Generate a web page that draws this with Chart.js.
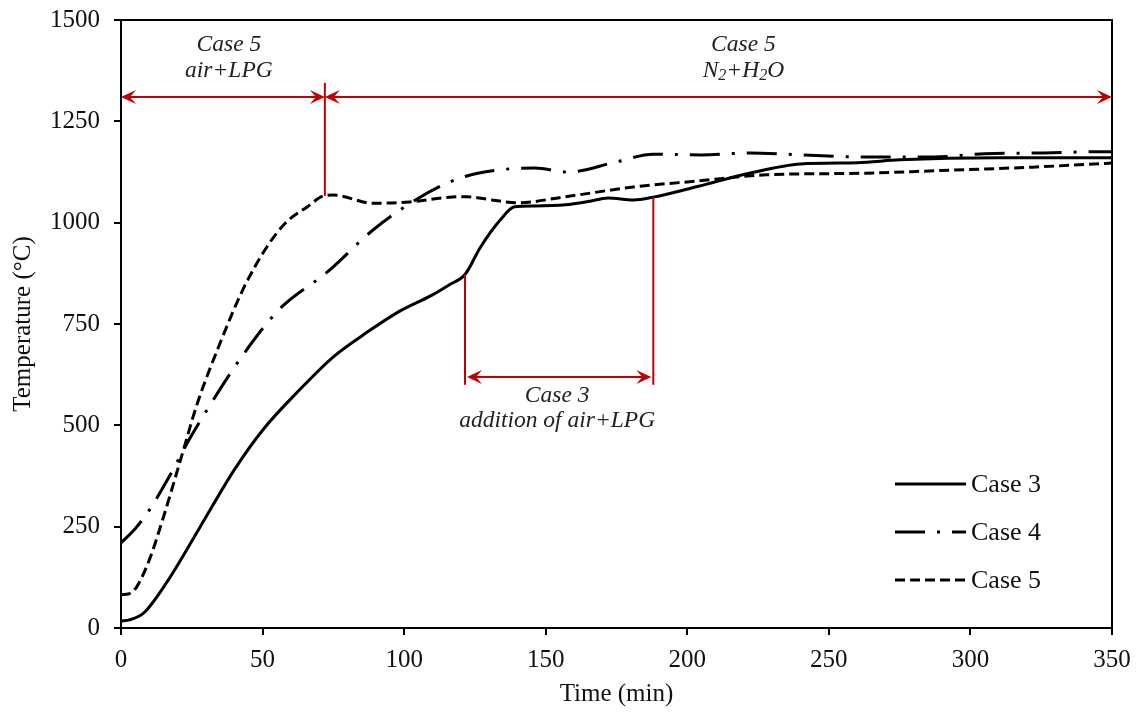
<!DOCTYPE html>
<html><head><meta charset="utf-8">
<script src="https://cdn.jsdelivr.net/npm/chart.js@4/dist/chart.umd.min.js"></script>
<style>html,body{margin:0;padding:0;background:#fff}#wrap{width:1136px;height:713px}</style>
</head><body><div id="wrap"><canvas id="c" width="1136" height="713"></canvas></div>
<script>
const xTicks = [0,50,100,150,200,250,300,350];
const yTicks = [0,250,500,750,1000,1250,1500];

const t3 = [0,3,8,16,28,40,50,63,75,87,98,110,116,121.5,127,134,139,146,157,165,172,181,188,204,222,240,260,275,310,350];
const T3 = [17,20,37,111,250,390,488,587,669,730,780,822,847,872,940,1007,1039,1041,1044,1052,1061,1056,1063,1090,1122,1145,1148,1155,1160,1160];

const t4 = [0,5,10,17,24,31,43,56,73,89,104,116,126,146,158,175,188,205,222,241,261,287,305,326,345,350];
const T4 = [210,245,291,373,464,545,673,787,879,982,1056,1100,1122,1135,1125,1150,1169,1167,1172,1167,1162,1162,1170,1172,1175,1175];

const t5 = [0,3,5.5,10,15,21,27,35,43,51.5,58.5,66,71.5,75,89,102,116,122,131,140,157,181,204,228,263,287,322,350];
const T5 = [82,85,101,168,274,414,555,703,834,940,1002,1040,1066,1068,1048,1051,1063,1064,1056,1049,1064,1088,1103,1118,1122,1128,1137,1147];

const seriesNames = ["Case 3","Case 4","Case 5"];

// annotation values (data units)
const phaseSplit = 72, phaseArrowY = 1310, phaseLineTop = 1345, phaseLineBottom = 1066;
const case3Start = 121.5, case3End = 188, case3ArrowY = 619, case3LineBottom = 600;
const case3StartTop = 872, case3EndTop = 1063;

const red = '#C00000';
const serif = '"Liberation Serif","Times New Roman",serif';

function pts(t, v){ return t.map((x,i)=>({x:x,y:v[i]})); }

const dashes = [[], [30,12,3,12], [10,5]];

const annotPlugin = {
  id:'annot',
  afterDatasetsDraw(chart){
    const ctx = chart.ctx, xs = chart.scales.x, ys = chart.scales.y, a = chart.chartArea;
    const X = v=>xs.getPixelForValue(v), Y = v=>ys.getPixelForValue(v);
    ctx.save();
    ctx.strokeStyle='#000'; ctx.lineWidth=2;
    ctx.beginPath(); ctx.moveTo(a.left,a.top); ctx.lineTo(a.right,a.top); ctx.lineTo(a.right,a.bottom); ctx.stroke();

    ctx.strokeStyle=red; ctx.fillStyle=red; ctx.lineWidth=2;
    function line(x1,y1,x2,y2){ctx.beginPath();ctx.moveTo(x1,y1);ctx.lineTo(x2,y2);ctx.stroke();}
    function head(x,y,dir){
      const L=15,W=7,I=9;
      ctx.beginPath(); ctx.moveTo(x,y); ctx.lineTo(x-dir*L,y-W); ctx.lineTo(x-dir*I,y); ctx.lineTo(x-dir*L,y+W); ctx.closePath(); ctx.fill();
    }
    function dbl(x1,x2,y){ line(x1+4,y,x2-4,y); head(x1,y,-1); head(x2,y,1); }
    const py = Y(phaseArrowY);
    line(X(phaseSplit),Y(phaseLineTop),X(phaseSplit),Y(phaseLineBottom));
    dbl(X(0),X(phaseSplit),py);
    dbl(X(phaseSplit),X(350),py);
    line(X(case3Start),Y(case3StartTop),X(case3Start),Y(case3LineBottom));
    line(X(case3End),Y(case3EndTop),X(case3End),Y(case3LineBottom));
    dbl(X(case3Start)+2,X(case3End)-2,Y(case3ArrowY));

    const F = 'italic 23.5px '+serif, FS = 'italic 16px '+serif;
    ctx.fillStyle='#222'; ctx.font=F; ctx.textAlign='center'; ctx.textBaseline='middle';
    const cx1 = X(phaseSplit/2)+6;
    ctx.fillText('Case 5',cx1,45); ctx.fillText('air+LPG',cx1,71);
    const cx2 = X((phaseSplit+350)/2)+25;
    ctx.fillText('Case 5',cx2,45);
    const parts=[['N',0],['2',1],['+H',0],['2',1],['O',0]];
    let w=0; parts.forEach(p=>{ctx.font=p[1]?FS:F; w+=ctx.measureText(p[0]).width;});
    let x=cx2-w/2; ctx.textAlign='left';
    parts.forEach(p=>{ctx.font=p[1]?FS:F; ctx.fillText(p[0],x,p[1]?76:71); x+=ctx.measureText(p[0]).width;});
    ctx.textAlign='center'; ctx.font=F;
    const cx3=(X(case3Start)+X(case3End))/2-2;
    ctx.fillText('Case 3',cx3,396); ctx.fillText('addition of air+LPG',cx3,421);

    const ly=[484,532,580];
    ctx.strokeStyle='#000'; ctx.lineWidth=3;
    ly.forEach((yy,i)=>{
      ctx.setLineDash(dashes[i]); ctx.beginPath(); ctx.moveTo(895,yy); ctx.lineTo(966,yy); ctx.stroke();
    });
    ctx.setLineDash([]);
    ctx.fillStyle='#111'; ctx.font='26px '+serif; ctx.textAlign='left';
    ly.forEach((yy,i)=>ctx.fillText(seriesNames[i],971,yy+1));
    ctx.restore();
  }
};

function noPad(s){ s.paddingTop=0; s.paddingBottom=0; s.paddingLeft=0; s.paddingRight=0; }

new Chart(document.getElementById('c'),{
  type:'line',
  data:{datasets:[
    {label:seriesNames[0],data:pts(t3,T3),borderDash:dashes[0]},
    {label:seriesNames[1],data:pts(t4,T4),borderDash:dashes[1]},
    {label:seriesNames[2],data:pts(t5,T5),borderDash:dashes[2]}
  ].map(d=>Object.assign(d,{borderColor:'#000',borderWidth:3,pointRadius:0,cubicInterpolationMode:'monotone',fill:false}))},
  options:{
    responsive:false,animation:false,
    layout:{padding:{top:20,right:24,left:0,bottom:0}},
    plugins:{legend:{display:false},tooltip:{enabled:false}},
    scales:{
      x:{type:'linear',min:0,max:350,
        afterBuildTicks:s=>{s.ticks=xTicks.map(v=>({value:v}));},
        afterFit:s=>{s.height=85; noPad(s);},
        grid:{drawOnChartArea:false,drawTicks:true,tickLength:7,color:'#000',lineWidth:2},
        border:{display:true,color:'#000',width:2},
        ticks:{color:'#111',font:{family:serif,size:25},padding:10,maxRotation:0,callback:v=>String(v)},
        title:{display:true,text:'Time (min)',color:'#111',font:{family:serif,size:25},padding:{top:4,bottom:4}}
      },
      y:{min:0,max:1500,
        afterBuildTicks:s=>{s.ticks=yTicks.map(v=>({value:v}));},
        afterFit:s=>{s.width=121; noPad(s);},
        grid:{drawOnChartArea:false,drawTicks:true,tickLength:7,color:'#000',lineWidth:2},
        border:{display:true,color:'#000',width:2},
        ticks:{color:'#111',font:{family:serif,size:25},padding:14,callback:v=>String(v)},
        title:{display:true,text:'Temperature (°C)',color:'#111',font:{family:serif,size:25},padding:{top:8,bottom:2}}
      }
    }
  },
  plugins:[annotPlugin]
});
</script></body></html>
